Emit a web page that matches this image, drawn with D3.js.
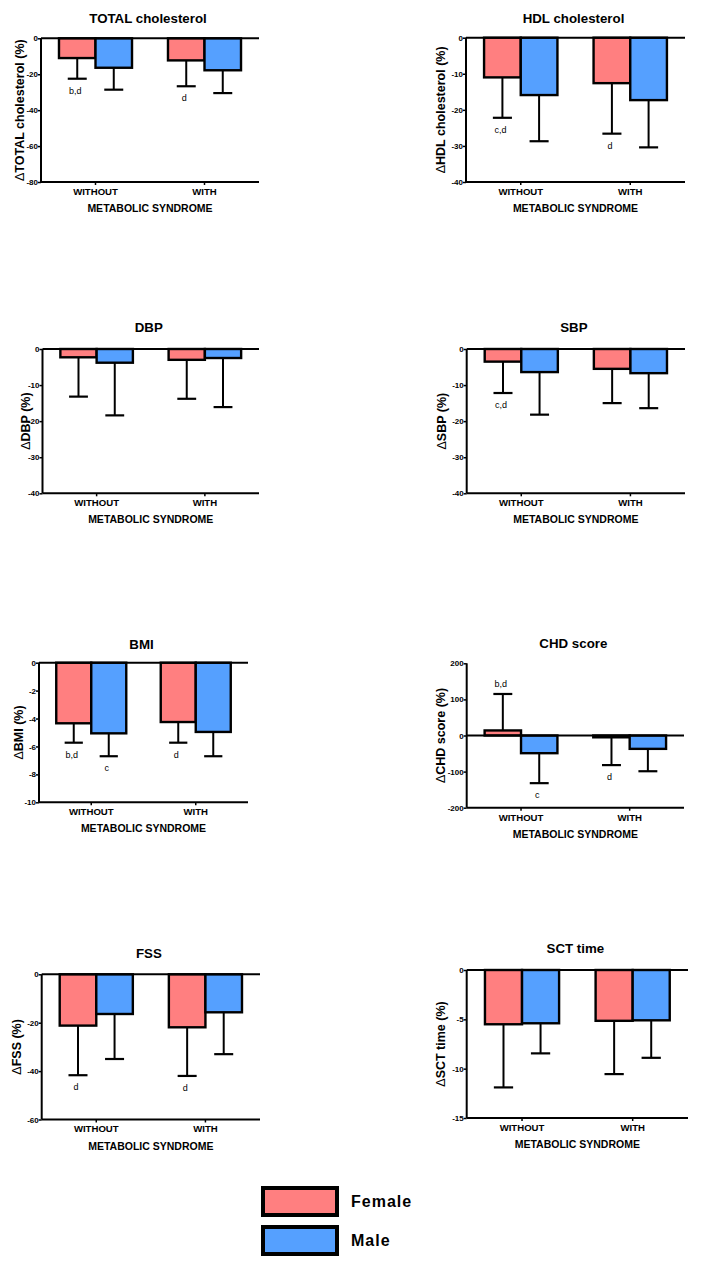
<!DOCTYPE html>
<html><head><meta charset="utf-8">
<script src="https://cdn.jsdelivr.net/npm/d3@7"></script>
<style>
html,body{margin:0;padding:0;background:#fff;}
svg{display:block;font-family:"Liberation Sans",Arial,sans-serif;}
</style></head>
<body>
<svg id="chart" width="705" height="1266"></svg>
<script>
// ---------- DATA ----------
const groups = ["WITHOUT", "WITH"];
const sexes = ["Female", "Male"];
const titles = ["TOTAL cholesterol", "HDL cholesterol", "DBP", "SBP", "BMI", "CHD score", "FSS", "SCT time"];
const yTitles = ["TOTAL cholesterol (%)", "HDL cholesterol (%)", "DBP (%)", "SBP (%)", "BMI (%)", "CHD score (%)", "FSS (%)", "SCT time (%)"];
const xTitle = "METABOLIC SYNDROME";
// means [WITHOUT, WITH]
const femaleMean = [[-11.0, -12.3], [-11.0, -12.6], [-2.3, -3.0], [-3.5, -5.5], [-4.34, -4.25], [14, -5], [-21.2, -21.9], [-5.5, -5.15]];
const maleMean   = [[-16.4, -17.8], [-15.9, -17.3], [-3.8, -2.5], [-6.4, -6.7], [-5.06, -4.96], [-49, -37], [-16.4, -15.7], [-5.4, -5.1]];
// SD (one-sided error bar length, in the direction of the mean)
const femaleSD = [[11.5, 14.4], [11.2, 14.0], [10.9, 10.8], [8.7, 9.5], [1.39, 1.48], [101, 77], [20.5, 20.1], [6.4, 5.4]];
const maleSD   = [[12.2, 12.7], [12.8, 13.1], [14.6, 13.6], [11.8, 9.7], [1.64, 1.74], [83, 62], [18.6, 17.3], [3.05, 3.8]];
const yMin = [-80, -40, -40, -40, -10, -200, -60, -15];
const yMax = [0, 0, 0, 0, 0, 200, 0, 0];
const tickStep = [20, 10, 10, 10, 2, 100, 20, 5];
// annotations: [panel, group, sex, text]
const annotations = [
  [0, 0, 0, "b,d"], [0, 1, 0, "d"],
  [1, 0, 0, "c,d"], [1, 1, 0, "d"],
  [3, 0, 0, "c,d"],
  [4, 0, 0, "b,d"], [4, 0, 1, "c"], [4, 1, 0, "d"],
  [5, 0, 0, "b,d"], [5, 0, 1, "c"], [5, 1, 0, "d"],
  [6, 0, 0, "d"], [6, 1, 0, "d"]
];
const colors = ["#FF7F80", "#55A0FF"];

// ---------- LAYOUT ----------
const layout = [
  {x0: 41,    x1: 259, yt: 38.3,  yb: 182,    lo: 22, ty: 23},
  {x0: 466,   x1: 685, yt: 37.7,  yb: 182,    lo: 26, ty: 23},
  {x0: 42.5,  x1: 259, yt: 349,   yb: 493.3,  lo: 18, ty: 332},
  {x0: 466.7, x1: 685, yt: 349,   yb: 493.3,  lo: 26, ty: 332},
  {x0: 39,    x1: 248, yt: 662.7, yb: 802.3,  lo: 21, ty: 649},
  {x0: 466.7, x1: 684, yt: 663.3, yb: 807.7,  lo: 27, ty: 648},
  {x0: 41.7,  x1: 260, yt: 974.3, yb: 1119.5, lo: 26, ty: 958},
  {x0: 466.7, x1: 688, yt: 970,   yb: 1118,   lo: 27, ty: 953}
];

const svg = d3.select("#chart");

titles.forEach((title, p) => {
  const L = layout[p];
  const g = svg.append("g");
  const x = d3.scaleBand().domain(groups).range([L.x0, L.x1]).padding(0);
  const y = d3.scaleLinear().domain([yMin[p], yMax[p]]).range([L.yb, L.yt]);
  const bw = x.bandwidth() * 0.335;
  const capW = bw * 0.52;

  const rows = [];
  groups.forEach((grp, gi) => {
    sexes.forEach((s, si) => {
      const m = si === 0 ? femaleMean[p][gi] : maleMean[p][gi];
      const sd = si === 0 ? femaleSD[p][gi] : maleSD[p][gi];
      const cx = x(grp) + x.bandwidth() / 2;
      rows.push({gi, si, m, sd, xl: si === 0 ? cx - bw : cx, color: colors[si]});
    });
  });

  // error bars
  rows.forEach(r => {
    const end = r.m >= 0 ? r.m + r.sd : r.m - r.sd;
    const cx = r.xl + bw / 2;
    g.append("line").attr("x1", cx).attr("x2", cx).attr("y1", y(r.m)).attr("y2", y(end))
      .attr("stroke", "#000").attr("stroke-width", 2);
    g.append("line").attr("x1", cx - capW / 2).attr("x2", cx + capW / 2).attr("y1", y(end)).attr("y2", y(end))
      .attr("stroke", "#000").attr("stroke-width", 2.2);
  });

  // bars
  g.selectAll("rect.bar").data(rows).join("rect").attr("class", "bar")
    .attr("x", d => d.xl)
    .attr("y", d => y(Math.max(0, d.m)))
    .attr("width", bw)
    .attr("height", d => Math.abs(y(d.m) - y(0)))
    .attr("fill", d => d.color)
    .attr("stroke", "#000").attr("stroke-width", 2.4);

  // zero line
  g.append("line").attr("x1", L.x0).attr("x2", L.x1).attr("y1", y(0)).attr("y2", y(0))
    .attr("stroke", "#000").attr("stroke-width", 2);

  // y axis
  const ticks = d3.range(yMin[p], yMax[p] + tickStep[p] / 2, tickStep[p]);
  const ya = g.append("g").attr("transform", `translate(${L.x0},0)`)
    .call(d3.axisLeft(y).tickValues(ticks).tickSize(3).tickPadding(0).tickFormat(d => String(d)));
  ya.select(".domain").attr("stroke-width", 2).attr("d", `M0,${L.yb}V${L.yt}`);
  ya.selectAll(".tick line").attr("stroke-width", 1.5);
  ya.selectAll(".tick text").attr("font-size", 8).attr("font-weight", "bold")
    .attr("font-family", "Liberation Sans, Arial, sans-serif").attr("fill", "#000");

  // x axis (bottom)
  const xa = g.append("g").attr("transform", `translate(0,${L.yb})`)
    .call(d3.axisBottom(x).tickSize(3).tickPadding(3));
  xa.select(".domain").attr("stroke-width", 2).attr("d", `M${L.x0},0H${L.x1}`);
  xa.selectAll(".tick line").attr("stroke-width", 1.5);
  xa.selectAll(".tick text").attr("font-size", 9.6).attr("font-weight", "bold")
    .attr("font-family", "Liberation Sans, Arial, sans-serif").attr("fill", "#000");

  // titles
  const cxPlot = (L.x0 + L.x1) / 2;
  g.append("text").attr("x", cxPlot - 2).attr("y", L.ty).attr("text-anchor", "middle")
    .attr("font-size", 13.3).attr("font-weight", "bold").text(title);
  g.append("text").attr("x", cxPlot).attr("y", L.yb + 30).attr("text-anchor", "middle")
    .attr("font-size", 10.5).attr("font-weight", "bold").text(xTitle);
  const yc = (L.yt + L.yb) / 2;
  const yt = g.append("text").attr("transform", `translate(${L.x0 - L.lo + 5},${yc}) rotate(-90)`)
    .attr("text-anchor", "middle").attr("font-size", 12.5);
  yt.append("tspan").text("\u0394");
  yt.append("tspan").attr("font-weight", "bold").text(yTitles[p]);

  // annotations
  annotations.filter(a => a[0] === p).forEach(a => {
    const r = rows.find(d => d.gi === a[1] && d.si === a[2]);
    const end = r.m >= 0 ? r.m + r.sd : r.m - r.sd;
    const up = r.m >= 0;
    g.append("text").attr("x", r.xl + bw / 2 - 2).attr("y", y(end) + (up ? -7 : 15))
      .attr("text-anchor", "middle").attr("font-size", 9).text(a[3]);
  });
});

// legend
const leg = svg.append("g");
sexes.forEach((s, i) => {
  const yy = 1188 + i * 39;
  leg.append("rect").attr("x", 263).attr("y", yy).attr("width", 74).attr("height", 27)
    .attr("fill", colors[i]).attr("stroke", "#000").attr("stroke-width", 4);
  leg.append("text").attr("x", 351).attr("y", yy + 19).attr("font-size", 16).attr("font-weight", "bold")
    .attr("letter-spacing", 1).text(s);
});
</script>
</body></html>
